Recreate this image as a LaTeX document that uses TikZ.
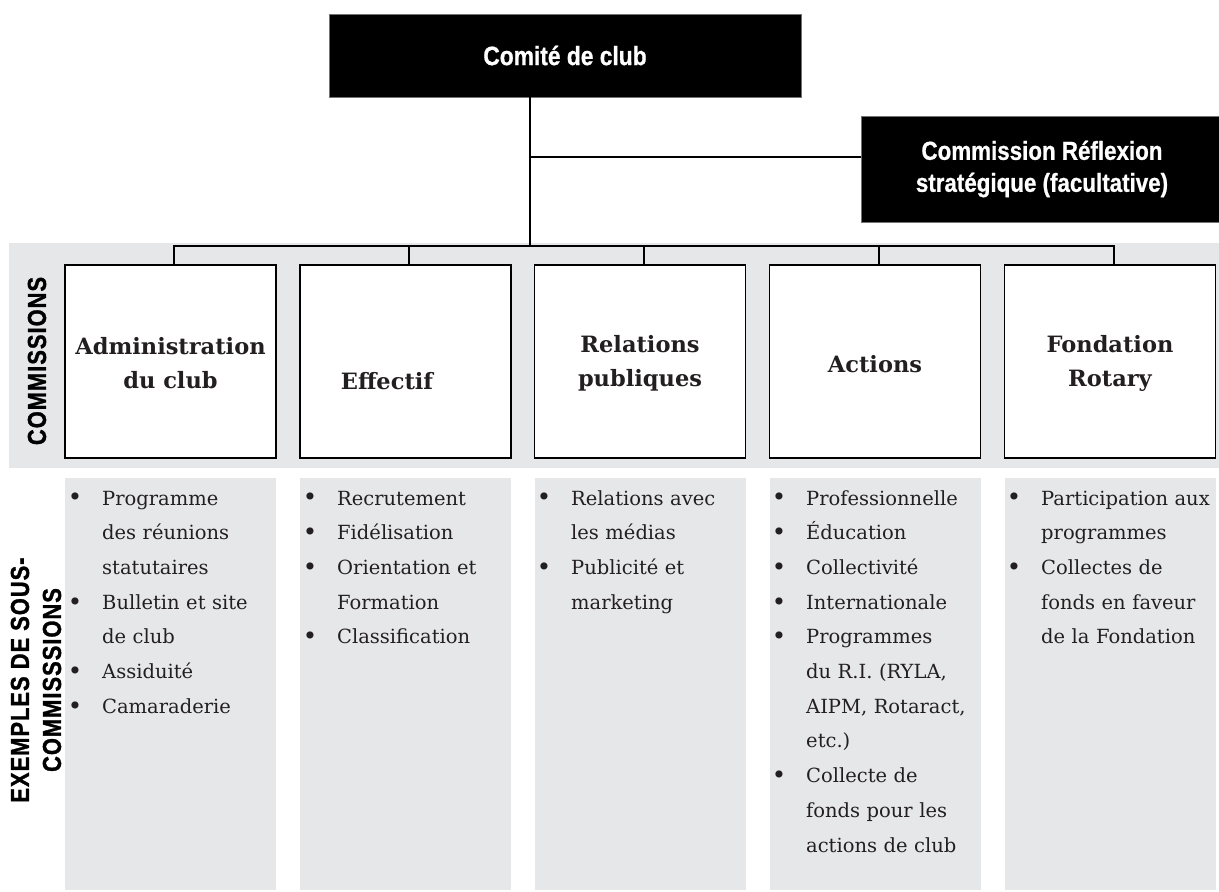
\documentclass[tikz,border=0pt]{standalone}
\usepackage{fontspec}
\setmainfont{DejaVu Serif}
\newfontfamily\condb{Liberation Sans}[FakeStretch=0.86,FakeBold=0.8]
\newfontfamily\condside{Liberation Sans}[FakeStretch=0.84,LetterSpace=4,FakeBold=1.2]
\definecolor{bandgrey}{RGB}{230,231,232}
\definecolor{ink}{RGB}{35,31,32}
\newcommand{\bul}{\leavevmode\llap{\raisebox{-0.05em}{\scalebox{1.25}{\textbullet}}\hspace{20pt}}}
\begin{document}
\begin{tikzpicture}[x=1pt,y=-1pt,
  conn/.style={line width=2.5pt, black},
  blackbox/.style={fill=black, draw=black!55, line width=0.6pt, text=white, align=center, inner sep=0pt},
  combox/.style={draw=black, line width=1.3pt, fill=white, minimum width=211pt, minimum height=193pt, inner sep=0pt},
  comlabel/.style={font=\bfseries\fontsize{22.5}{34}\selectfont, text=ink, align=center, inner sep=0pt},
  subbox/.style={fill=bandgrey, minimum width=211pt, minimum height=412pt, inner sep=0pt},
  sublist/.style={anchor=base west, text width=200pt, align=left, inner sep=0pt, text=ink, font=\fontsize{19.5}{34.7}\selectfont},
  sidelabel/.style={rotate=90, font=\condside\bfseries\fontsize{26}{32}\selectfont, align=center, inner sep=0pt}
]
\useasboundingbox (0,0) rectangle (1219,892);
% grey band
\fill[bandgrey] (9,243) rectangle (1219,468);

% top boxes
\node[blackbox, minimum width=472pt, minimum height=83pt, font=\condb\bfseries\fontsize{26.5}{31}\selectfont] (comite) at (565,55.5) {Comité de club};
\node[blackbox, minimum width=362pt, minimum height=106pt, font=\condb\bfseries\fontsize{26}{32}\selectfont] (refl) at (1042,169) {Commission Réflexion\\stratégique (facultative)};

% commission box centres
\coordinate (p1) at (170.5,361.5);
\coordinate (p2) at (405.5,361.5);
\coordinate (p3) at (640,361.5);
\coordinate (p4) at (875,361.5);
\coordinate (p5) at (1110,361.5);

% connectors
\coordinate (jr) at (530,157);
\coordinate (jb) at (530,246);
\draw[conn] (comite.south -| jb) -- (jb);
\draw[conn] (jr) -- (jr -| refl.west);
\coordinate (d1) at (174,265);
\coordinate (d2) at (409,265);
\coordinate (d3) at (644,265);
\coordinate (d4) at (879,265);
\coordinate (d5) at (1114,265);
\draw[conn, line join=miter] (d1) |- (jb) -| (d5);
\draw[conn] (d2) -- (d2 |- jb);
\draw[conn] (d3) -- (d3 |- jb);
\draw[conn] (d4) -- (d4 |- jb);

\node[combox] (c1) at (p1) {};
\node[combox] (c2) at (p2) {};
\node[combox] (c3) at (p3) {};
\node[combox] (c4) at (p4) {};
\node[combox] (c5) at (p5) {};

\node[comlabel] (t1) at (170.5,363) {Administration\\du club};
\node[comlabel] (t2) at (387,381) {Effectif};
\node[comlabel] (t3) at (640,363) {Relations\\publiques};
\node[comlabel] (t4) at (875,364) {Actions};
\node[comlabel] (t5) at (1110,363) {Fondation\\Rotary};

% sub-commission boxes
\node[subbox] (s1) at (170.5,684) {};
\node[subbox] (s2) at (405.5,684) {};
\node[subbox] (s3) at (640,684) {};
\node[subbox] (s4) at (875,684) {};
\node[subbox] (s5) at (1110,684) {};

\node[sublist] (l1) at (102,505) {\bul Programme\\des réunions\\statutaires\\\bul Bulletin et site\\de club\\\bul Assiduité\\\bul Camaraderie};
\node[sublist] (l2) at (337,505) {\bul Recrutement\\\bul Fidélisation\\\bul Orientation et\\Formation\\\bul Classification};
\node[sublist] (l3) at (571,505) {\bul Relations avec\\les médias\\\bul Publicité et\\marketing};
\node[sublist] (l4) at (806,505) {\bul Professionnelle\\\bul Éducation\\\bul Collectivité\\\bul Internationale\\\bul Programmes\\du R.I. (RYLA,\\AIPM, Rotaract,\\etc.)\\\bul Collecte de\\fonds pour les\\actions de club};
\node[sublist] (l5) at (1041,505) {\bul Participation aux\\programmes\\\bul Collectes de\\fonds en faveur\\de la Fondation};

% side labels
\node[sidelabel] (side1) at (37,361) {COMMISSIONS};
\node[sidelabel] (side2) at (36,680) {EXEMPLES DE SOUS-\\COMMISSSIONS};
\end{tikzpicture}
\end{document}
